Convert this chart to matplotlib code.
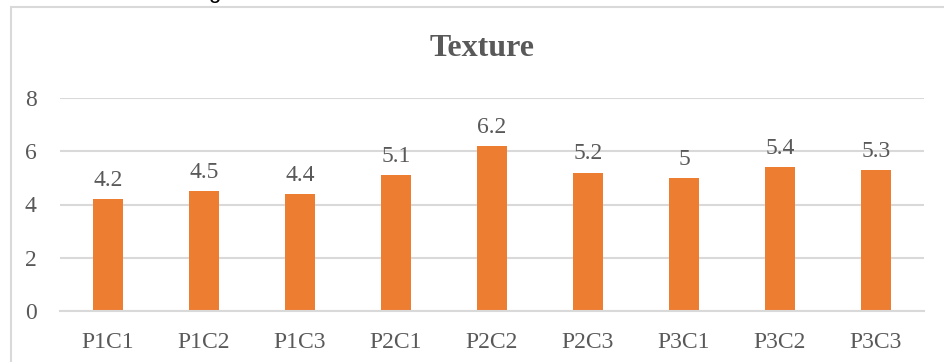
import matplotlib
matplotlib.use("Agg")
import matplotlib.pyplot as plt
from matplotlib.patches import Rectangle

categories = ["P1C1", "P1C2", "P1C3", "P2C1", "P2C2", "P2C3", "P3C1", "P3C2", "P3C3"]
texture = [4.2, 4.5, 4.4, 5.1, 6.2, 5.2, 5, 5.4, 5.3]
y_ticks = [0, 2, 4, 6, 8]
title = "Texture"

bar_color = "#ED7D31"
grid_color = "#D9D9D9"
text_color = "#595959"
serif = ["Liberation Serif", "DejaVu Serif"]

fig = plt.figure(figsize=(9.45, 3.62), dpi=100)
W, H = 945, 362

# chart frame (extends past the right and bottom edges)
fig.patches.append(Rectangle((10.5 / W, -0.2), 1.2, 1.2 - 7 / H,
                             transform=fig.transFigure, fill=False,
                             edgecolor=grid_color, linewidth=1.5, clip_on=False))

# descender of a heading line above the chart
fig.text(214 / W, 1 + 2 / H, "g", fontsize=16, color="black",
         family=["Liberation Sans", "DejaVu Sans"], ha="center", va="baseline")

ax = fig.add_axes([60 / W, (H - 311) / H, (924 - 60) / W, (311 - 98) / H])

x = list(range(len(categories)))
bars = ax.bar(x, texture, width=0.32, color=bar_color, zorder=3)

for xi, v in zip(x, texture):
    label = f"{v:g}"
    ax.annotate(label, (xi, v), xytext=(0, 6), textcoords="offset points",
                ha="center", va="bottom", fontsize=17, color=text_color,
                family=serif)

ax.set_xlim(-0.5, len(categories) - 0.5)
ax.set_ylim(0, 8)
ax.set_yticks(y_ticks)
ax.set_yticklabels([str(t) for t in y_ticks], family=serif, fontsize=17,
                   color=text_color)
ax.set_xticks(x)
ax.set_xticklabels(categories, family=serif, fontsize=17, color=text_color)
ax.tick_params(axis="both", length=0)
ax.tick_params(axis="y", pad=17)
ax.tick_params(axis="x", pad=15)

ax.grid(axis="y", color=grid_color, linewidth=1.5, zorder=0)
for side in ["left", "right", "top"]:
    ax.spines[side].set_visible(False)
ax.spines["bottom"].set_color(grid_color)
ax.spines["bottom"].set_linewidth(1.5)
ax.spines["bottom"].set_zorder(4)

fig.text(482 / W, 1 - 49 / H, title, fontsize=23, fontweight="bold",
         color=text_color, family=serif, ha="center", va="center")

fig.savefig("out.png", dpi=100)
